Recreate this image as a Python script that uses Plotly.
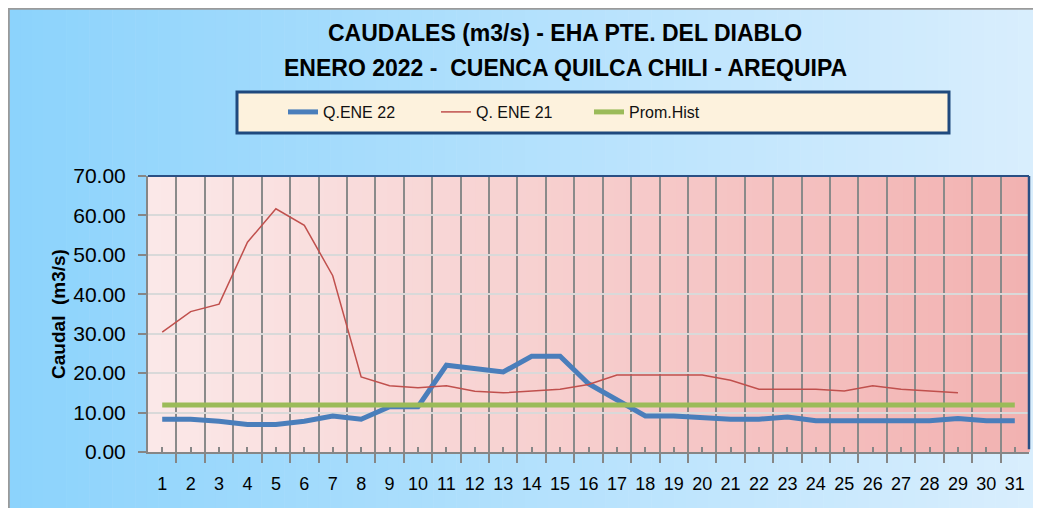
import plotly.graph_objects as go

days = list(range(1, 32))
day_labels = [str(d) for d in days]
q_ene22 = [8.3, 8.3, 7.8, 6.95, 6.95, 7.8, 9.15, 8.3, 11.5, 11.5, 22.0, 21.2, 20.3, 24.3, 24.3,
           17.3, 13.2, 9.15, 9.15, 8.65, 8.3, 8.3, 8.9, 7.9, 7.9, 7.9, 7.9, 7.9, 8.5, 7.9, 7.9]
q_ene21 = [30.4, 35.6, 37.5, 53.2, 61.7, 57.5, 44.7, 19.05, 16.8, 16.3, 16.8, 15.4, 15.0, 15.5, 15.9,
           17.1, 19.5, 19.5, 19.5, 19.5, 18.2, 15.9, 15.9, 15.9, 15.5, 16.8, 15.9, 15.4, 15.0, None, None]
prom_hist = [11.9, 11.9, 11.9, 11.9, 11.9, 11.9, 11.9, 11.9, 11.9, 11.9, 11.9, 11.9, 11.9, 11.9, 11.9,
             11.9, 11.9, 11.9, 11.9, 11.9, 11.9, 11.9, 11.9, 11.9, 11.9, 11.9, 11.9, 11.9, 11.9, 11.9, 11.9]
y_ticks = [0, 10, 20, 30, 40, 50, 60, 70]

OFF = 8                       # page body margin
W, H = 1041 - OFF, 508 - OFF  # figure size
# plot area in screen pixels
L, R, T, B = 148, 1029, 176, 452


def xp(px):
    return (px - L) / (R - L)


def yp(py):
    return (B - py) / (B - T)


def lerp(c1, c2, t):
    return "rgb(%d,%d,%d)" % tuple(round(a + (b - a) * t) for a, b in zip(c1, c2))


shapes = []
# paper gradient (light blue)
n = 90
x_start, x_end = OFF + 1, 1041
for i in range(n):
    a = x_start + (x_end - x_start) * i / n
    b = x_start + (x_end - x_start) * (i + 1) / n + 0.6
    shapes.append(dict(type="rect", xref="paper", yref="paper", layer="below",
                       x0=xp(a), x1=xp(b), y0=yp(510), y1=yp(OFF + 1),
                       line=dict(width=0), fillcolor=lerp((140, 211, 252), (217, 238, 253), i / (n - 1))))
# border lines
shapes.append(dict(type="line", xref="paper", yref="paper", layer="below",
                   x0=xp(OFF), x1=xp(1045), y0=yp(OFF + 0.8), y1=yp(OFF + 0.8),
                   line=dict(color="#9a9a9a", width=2)))
shapes.append(dict(type="line", xref="paper", yref="paper", layer="below",
                   x0=xp(OFF + 0.8), x1=xp(OFF + 0.8), y0=yp(OFF), y1=yp(510),
                   line=dict(color="#9a9a9a", width=2)))
# plot area gradient (pink)
m = 70
for i in range(m):
    shapes.append(dict(type="rect", xref="paper", yref="paper", layer="below",
                       x0=i / m, x1=(i + 1) / m + 0.001, y0=0, y1=1,
                       line=dict(width=0), fillcolor=lerp((251, 232, 232), (242, 178, 177), i / (m - 1))))
# plot area top/right border
shapes.append(dict(type="line", xref="paper", yref="paper", layer="above",
                   x0=0, x1=1, y0=1, y1=1, line=dict(color="#2a4f84", width=2)))
shapes.append(dict(type="line", xref="paper", yref="paper", layer="above",
                   x0=1, x1=1, y0=0.01, y1=1, line=dict(color="#2a4f84", width=2.5)))
# legend box
shapes.append(dict(type="rect", xref="paper", yref="paper", layer="below",
                   x0=xp(237), x1=xp(949), y0=yp(133), y1=yp(92),
                   line=dict(color="#1f497d", width=3), fillcolor="#fdf2dd"))

fig = go.Figure()
fig.add_trace(go.Scatter(x=days, y=q_ene22, name="Q.ENE 22", mode="lines",
                         line=dict(color="#4a7ebb", width=5)))
fig.add_trace(go.Scatter(x=days, y=q_ene21, name="Q. ENE 21", mode="lines",
                         line=dict(color="#c0504d", width=1.5)))
fig.add_trace(go.Scatter(x=days, y=prom_hist, name="Prom.Hist", mode="lines",
                         line=dict(color="#9bbb59", width=5)))

fig.update_layout(
    width=W, height=H,
    margin=dict(l=L - OFF, r=1041 - R, t=T - OFF, b=508 - B),
    paper_bgcolor="white",
    plot_bgcolor="rgba(0,0,0,0)",
    font=dict(family="Liberation Sans", color="black"),
    shapes=shapes,
    showlegend=True,
    legend=dict(orientation="h", x=xp(283), y=yp(112), xanchor="left", yanchor="middle",
                bgcolor="rgba(0,0,0,0)", font=dict(size=16, family="Liberation Sans", color="#111"),
                entrywidth=108, itemwidth=30, traceorder="normal"),
    annotations=[
        dict(text="<b>CAUDALES (m3/s) - EHA PTE. DEL DIABLO</b>", xref="paper", yref="paper",
             x=xp(565), y=yp(33), xanchor="center", yanchor="middle", showarrow=False,
             font=dict(size=23, family="Liberation Sans", color="black")),
        dict(text="<b>ENERO 2022 -  CUENCA QUILCA CHILI - AREQUIPA</b>", xref="paper", yref="paper",
             x=xp(565), y=yp(68), xanchor="center", yanchor="middle", showarrow=False,
             font=dict(size=23, family="Liberation Sans", color="black")),
    ],
    hovermode=False,
)

fig.update_xaxes(
    range=[0.5, 31.5], tickmode="array", tickvals=days, ticktext=day_labels,
    ticks="inside", ticklen=5, tickcolor="#868686", tickwidth=1.5,
    showgrid=False, zeroline=False,
    showline=True, linecolor="#868686", linewidth=2,
    tickfont=dict(size=18, family="Liberation Sans", color="black"),
    ticklabelstandoff=14,
    minor=dict(tickmode="array", tickvals=[d + 0.5 for d in [0] + days], ticks="outside", ticklen=9,
               tickcolor="#868686", tickwidth=1.5, showgrid=True, gridcolor="#8a8a8a", gridwidth=1.8),
    fixedrange=True,
)
fig.update_yaxes(
    range=[0, 70], tickmode="array", tickvals=y_ticks, tickformat=".2f",
    ticks="outside", ticklen=8, tickcolor="#868686", tickwidth=1.5,
    showgrid=True, gridcolor="#d9d9d9", gridwidth=1.8, zeroline=False,
    showline=True, linecolor="#868686", linewidth=2,
    tickfont=dict(size=21, family="Liberation Sans", color="black"),
    ticklabelstandoff=8,
    title=dict(text="<b>Caudal  (m3/s)</b>", font=dict(size=19, family="Liberation Sans", color="black"),
               standoff=3),
    fixedrange=True,
)

fig.write_html("out.html")
